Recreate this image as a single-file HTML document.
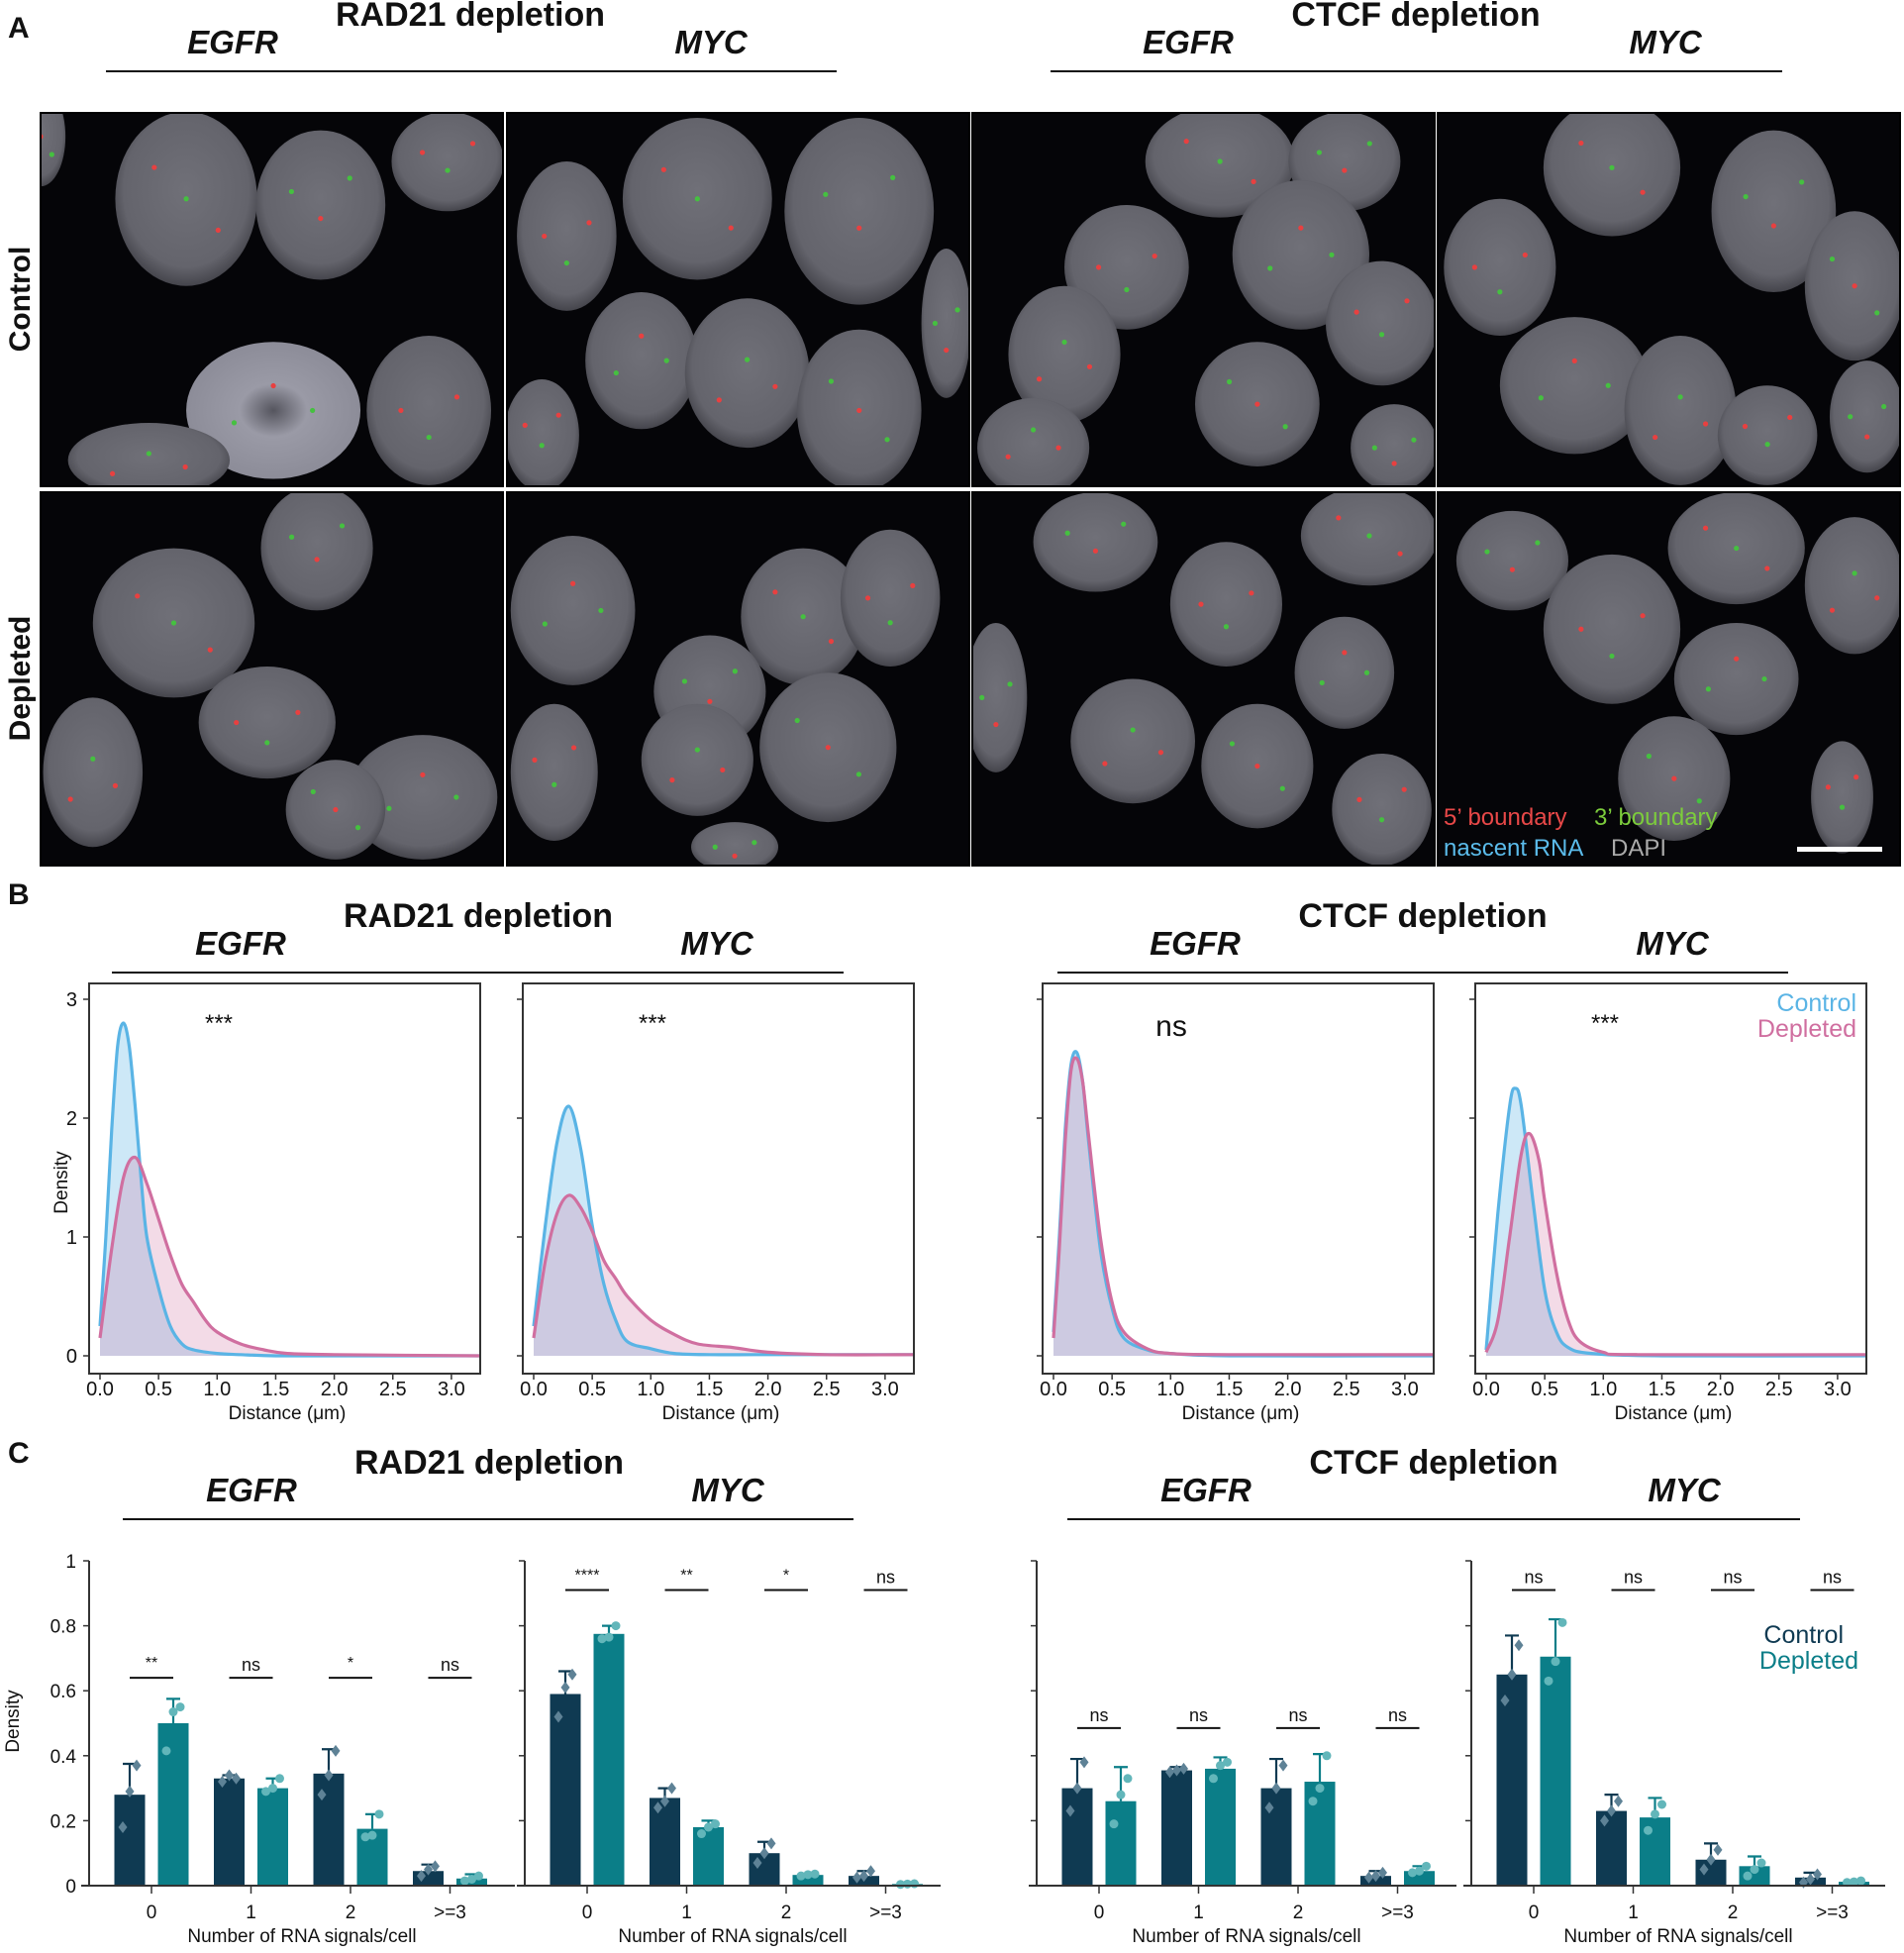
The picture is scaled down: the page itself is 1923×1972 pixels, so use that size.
<!DOCTYPE html>
<html><head><meta charset="utf-8">
<style>
html,body{margin:0;padding:0;background:#fff;}
svg{display:block;font-family:"Liberation Sans",Arial,sans-serif;}
</style></head>
<body>
<svg id="fig" width="1923" height="1972" viewBox="0 0 1923 1972" xmlns="http://www.w3.org/2000/svg">
<defs>
<radialGradient id="nuc" cx="50%" cy="45%" r="55%">
<stop offset="0%" stop-color="#707078"/><stop offset="80%" stop-color="#64646c"/><stop offset="100%" stop-color="#45454c"/>
</radialGradient>
<radialGradient id="nucb" cx="50%" cy="50%" r="55%">
<stop offset="0%" stop-color="#55555e"/><stop offset="35%" stop-color="#9a9aa6"/><stop offset="100%" stop-color="#8a8a96"/>
</radialGradient>
</defs>
<g id="secA"></g>
<g id="secB"></g>
<g id="secC"></g>
</svg>
<script>
// ---------- Panel B data (distance KDE) ----------
const kdeRadEgfrCtrlX = [0,0.05,0.1,0.15,0.2,0.25,0.3,0.35,0.4,0.5,0.6,0.7,0.8,1.0,1.2,1.5,2.0,3.25];
const kdeRadEgfrCtrlY = [0.25,1.0,1.9,2.6,2.8,2.6,2.1,1.5,1.0,0.57,0.25,0.1,0.05,0.02,0.01,0,0,0];
const kdeRadEgfrDepX = [0,0.1,0.2,0.3,0.4,0.5,0.6,0.7,0.8,0.9,1.0,1.2,1.4,1.6,2.0,3.25];
const kdeRadEgfrDepY = [0.15,0.9,1.5,1.67,1.45,1.15,0.85,0.6,0.45,0.3,0.2,0.1,0.05,0.02,0.01,0];
const kdeRadMycCtrlX = [0,0.1,0.2,0.3,0.4,0.5,0.6,0.7,0.8,1.0,1.2,1.5,2.0,3.25];
const kdeRadMycCtrlY = [0.25,1.1,1.8,2.1,1.75,1.1,0.6,0.3,0.12,0.06,0.02,0.01,0.01,0.01];
const kdeRadMycDepX = [0,0.1,0.2,0.3,0.4,0.5,0.6,0.7,0.8,1.0,1.2,1.4,1.7,2.0,2.5,3.25];
const kdeRadMycDepY = [0.15,0.8,1.2,1.35,1.25,1.05,0.8,0.65,0.5,0.3,0.18,0.1,0.07,0.03,0.01,0.01];
const kdeCtcfEgfrCtrlX = [0,0.05,0.1,0.15,0.2,0.25,0.3,0.4,0.5,0.6,0.8,1.0,1.5,3.25];
const kdeCtcfEgfrCtrlY = [0.2,1.0,1.9,2.45,2.55,2.3,1.8,0.9,0.4,0.15,0.05,0.02,0,0];
const kdeCtcfEgfrDepX = [0,0.05,0.1,0.15,0.2,0.25,0.3,0.4,0.5,0.6,0.8,1.0,1.5,3.25];
const kdeCtcfEgfrDepY = [0.15,0.9,1.8,2.4,2.5,2.3,1.85,1.0,0.45,0.2,0.06,0.02,0.01,0.01];
const kdeCtcfMycCtrlX = [0,0.1,0.2,0.25,0.3,0.4,0.5,0.6,0.7,0.9,1.5,3.25];
const kdeCtcfMycCtrlY = [0.05,1.2,2.1,2.25,2.1,1.3,0.55,0.2,0.07,0.02,0,0];
const kdeCtcfMycDepX = [0,0.1,0.2,0.3,0.37,0.45,0.5,0.6,0.7,0.8,1.0,1.3,3.25];
const kdeCtcfMycDepY = [0.03,0.3,1.0,1.7,1.87,1.65,1.3,0.7,0.3,0.12,0.03,0.01,0.01];
const distTicks = ["0.0","0.5","1.0","1.5","2.0","2.5","3.0"];
const densTicksB = ["0","1","2","3"];
const sigB = ["***","***","ns","***"];

// ---------- Panel C data (bar charts) ----------
const countCats = ["0","1","2",">=3"];
const densTicksC = ["0","0.2","0.4","0.6","0.8","1"];
const radEgfrCtrl = [0.28,0.33,0.345,0.045];
const radEgfrDep = [0.50,0.30,0.175,0.022];
const radEgfrCtrlErr = [0.375,0.34,0.42,0.065];
const radEgfrDepErr = [0.575,0.33,0.22,0.035];
const radEgfrCtrlPts = [[0.18,0.29,0.37],[0.32,0.34,0.33],[0.28,0.34,0.415],[0.03,0.05,0.06]];
const radEgfrDepPts = [[0.415,0.535,0.55],[0.29,0.30,0.33],[0.15,0.155,0.22],[0.015,0.02,0.03]];
const radEgfrSig = ["**","ns","*","ns"];
const radMycCtrl = [0.59,0.27,0.10,0.03];
const radMycDep = [0.775,0.18,0.033,0.005];
const radMycCtrlErr = [0.66,0.30,0.135,0.045];
const radMycDepErr = [0.80,0.20,0.037,0.007];
const radMycCtrlPts = [[0.52,0.61,0.65],[0.24,0.26,0.30],[0.07,0.10,0.13],[0.025,0.03,0.045]];
const radMycDepPts = [[0.76,0.765,0.80],[0.16,0.18,0.19],[0.03,0.034,0.036],[0.004,0.005,0.006]];
const radMycSig = ["****","**","*","ns"];
const ctcfEgfrCtrl = [0.30,0.355,0.30,0.03];
const ctcfEgfrDep = [0.26,0.36,0.32,0.045];
const ctcfEgfrCtrlErr = [0.39,0.365,0.39,0.045];
const ctcfEgfrDepErr = [0.365,0.395,0.405,0.06];
const ctcfEgfrCtrlPts = [[0.23,0.30,0.38],[0.35,0.355,0.36],[0.24,0.30,0.37],[0.025,0.03,0.04]];
const ctcfEgfrDepPts = [[0.19,0.28,0.33],[0.33,0.37,0.38],[0.26,0.30,0.40],[0.04,0.045,0.06]];
const ctcfEgfrSig = ["ns","ns","ns","ns"];
const ctcfMycCtrl = [0.65,0.23,0.08,0.025];
const ctcfMycDep = [0.705,0.21,0.06,0.012];
const ctcfMycCtrlErr = [0.77,0.28,0.13,0.04];
const ctcfMycDepErr = [0.82,0.27,0.09,0.015];
const ctcfMycCtrlPts = [[0.57,0.65,0.74],[0.20,0.23,0.26],[0.05,0.08,0.11],[0.01,0.02,0.035]];
const ctcfMycDepPts = [[0.63,0.69,0.81],[0.17,0.22,0.25],[0.03,0.05,0.07],[0.01,0.012,0.015]];
const ctcfMycSig = ["ns","ns","ns","ns"];

const NS="http://www.w3.org/2000/svg";
function mk(parent,tag,attrs,text){
  const e=document.createElementNS(NS,tag);
  for(const k in attrs) e.setAttribute(k,attrs[k]);
  if(text!==undefined) e.textContent=text;
  parent.appendChild(e); return e;
}
function txt(parent,x,y,s,size,opts){
  opts=opts||{};
  const t=mk(parent,'text',{x:x,y:y,'font-size':size,'text-anchor':opts.anchor||'middle',fill:opts.fill||'#111','font-weight':opts.weight||'normal','font-style':opts.style||'normal'},s);
  if(opts.rot) t.setAttribute('transform','rotate(-90 '+x+' '+y+')');
  return t;
}

// ---------- Section headers ----------
function header(g,y0,title,tx,gene1,g1x,gene2,g2x,lx1,lx2){
  const t=txt(g,tx,y0,title,34,{weight:'bold'});
  
  
  const a=txt(g,g1x,y0+28,gene1,33,{weight:'bold',style:'italic'});
  
  
  const b=txt(g,g2x,y0+28,gene2,33,{weight:'bold',style:'italic'});
  
  
  const l=mk(g,'line',{x1:lx1,x2:lx2,y1:y0+46,y2:y0+46,stroke:'#111','stroke-width':2});
  
  
}

// ---------- Section A ----------
const gA=document.getElementById('secA');
const pl=txt(gA,8,38,'A',30,{anchor:'start',weight:'bold'});


header(gA,26,'RAD21 depletion',475,'EGFR',235,'MYC',718,107,845);
header(gA,26,'CTCF depletion',1430,'EGFR',1200,'MYC',1682,1061,1800);

const rl1=txt(gA,30,302,'Control',30,{weight:'bold',rot:true});


const rl2=txt(gA,30,685,'Depleted',30,{weight:'bold',rot:true});



const imgCols=[41,512,982,1452];
const imgRows=[114,497];
const nuclei=[
 [[117,69,57,70],[225,74,52,60],[312,239,50,60],[187,239,70,55],[87,279,65,30],[0,19,20,40],[327,39,45,40]],
 [[153,69,60,65],[283,79,60,75],[48,99,40,60],[108,199,45,55],[193,209,50,60],[283,239,50,65],[28,259,30,45],[353,169,20,60]],
 [[199,39,60,45],[299,39,45,40],[124,124,50,50],[264,114,55,60],[74,194,45,55],[229,234,50,50],[329,169,45,50],[339,269,35,35],[49,269,45,40]],
 [[140,44,55,55],[270,79,50,65],[50,124,45,55],[110,219,60,55],[195,239,45,60],[335,139,40,60],[265,259,40,40],[345,244,30,45]],
 [[107,105,65,60],[222,45,45,50],[182,185,55,45],[307,245,60,50],[42,225,40,60],[237,255,40,40]],
 [[238,100,50,55],[163,160,45,45],[308,85,40,55],[53,95,50,60],[153,215,45,45],[258,205,55,60],[38,225,35,55],[183,285,35,20]],
 [[319,35,55,40],[99,40,50,40],[204,90,45,50],[299,145,40,45],[129,200,50,50],[229,220,45,50],[329,255,40,45],[19,165,25,60]],
 [[240,45,55,45],[60,55,45,40],[140,110,55,60],[240,150,50,45],[335,75,40,55],[190,230,45,50],[325,245,25,45]]
];
const S=1.257;
let idx=0;
for(let r=0;r<2;r++){for(let c=0;c<4;c++){
  const x0=imgCols[c], y0=imgRows[r];
  const g=mk(gA,'g',{});
  
  
  const cp=mk(g,'clipPath',{id:'cp'+idx});
  mk(cp,'rect',{x:x0,y:y0,width:467,height:377});
  mk(g,'rect',{x:x0,y:y0,width:467,height:377,fill:'#050508'});
  const gi=mk(g,'g',{'clip-path':'url(#cp'+idx+')'});
  nuclei[idx].forEach((n,k)=>{
    const e=mk(gi,'ellipse',{cx:x0+n[0]*S,cy:y0+n[1]*S,rx:n[2]*S,ry:n[3]*S,fill:(r===0&&c===0&&k===3)?'url(#nucb)':'url(#nuc)'});
    
    
    const cols=['#e84040','#45c040','#e84040','#45c040'];
    for(let d=0;d<3;d++){
      mk(gi,'circle',{cx:x0+(n[0]+(d-1)*n[2]*0.45)*S,cy:y0+(n[1]+((d*7+k)%5-2)*n[3]*0.18)*S,r:2.6,fill:cols[(d+k)%4]});
    }
  });
  mk(g,'rect',{x:x0,y:y0,width:467,height:377,fill:'none',stroke:'#000','stroke-width':2});
  idx++;
}}
const lg=[['5\u2019 boundary',1458,833,'#e84848'],['3\u2019 boundary',1610,833,'#7ccc3c'],['nascent RNA',1458,864,'#5bbbea'],['DAPI',1627,864,'#aaaaaa']];
lg.forEach(l=>{const t=txt(gA,l[1],l[2],l[0],24,{anchor:'start',fill:l[3]});
  
  });
const sb=mk(gA,'rect',{x:1815,y:855,width:86,height:5,fill:'#fff'});



// ---------- Section B ----------
const gB=document.getElementById('secB');
const plb=txt(gB,8,913,'B',30,{anchor:'start',weight:'bold'});


header(gB,936,'RAD21 depletion',483,'EGFR',243,'MYC',724,113,852);
header(gB,936,'CTCF depletion',1437,'EGFR',1207,'MYC',1689,1068,1806);

const boxLeftB=[90,528,1053,1490];
const boxW=395, boxTop=993, boxBot=1387;
const y0B=1369, pxPerDens=120, pxPerUm=118.3, xOffB=11;
const kdeSets=[
 [kdeRadEgfrCtrlX,kdeRadEgfrCtrlY,kdeRadEgfrDepX,kdeRadEgfrDepY],
 [kdeRadMycCtrlX,kdeRadMycCtrlY,kdeRadMycDepX,kdeRadMycDepY],
 [kdeCtcfEgfrCtrlX,kdeCtcfEgfrCtrlY,kdeCtcfEgfrDepX,kdeCtcfEgfrDepY],
 [kdeCtcfMycCtrlX,kdeCtcfMycCtrlY,kdeCtcfMycDepX,kdeCtcfMycDepY]];
function smoothPath(pts){
  let d='M'+pts[0][0]+','+pts[0][1];
  for(let i=0;i<pts.length-1;i++){
    const p0=pts[Math.max(0,i-1)],p1=pts[i],p2=pts[i+1],p3=pts[Math.min(pts.length-1,i+2)];
    const c1x=p1[0]+(p2[0]-p0[0])/6,c1y=p1[1]+(p2[1]-p0[1])/6;
    const c2x=p2[0]-(p3[0]-p1[0])/6,c2y=p2[1]-(p3[1]-p1[1])/6;
    d+=' C'+c1x.toFixed(1)+','+c1y.toFixed(1)+' '+c2x.toFixed(1)+','+c2y.toFixed(1)+' '+p2[0].toFixed(1)+','+p2[1].toFixed(1);
  }
  return d;
}
boxLeftB.forEach((bx,p)=>{
  const g=mk(gB,'g',{});
  
  
  const xs=v=>bx+xOffB+v*pxPerUm;
  const ys=v=>y0B-v*pxPerDens;
  const xMaxPx=bx+boxW;
  const set=kdeSets[p];
  const series=[[set[0],set[1],'#5ab4e5','rgba(90,180,229,0.30)','control'],[set[2],set[3],'#d06fa0','rgba(208,111,160,0.25)','depleted']];
  series.forEach(s=>{
    const pts=s[0].map((x,i)=>[Math.min(xs(x),xMaxPx),ys(s[1][i])]);
    const d=smoothPath(pts);
    const f=mk(g,'path',{d:d+' L'+pts[pts.length-1][0]+','+y0B+' L'+pts[0][0]+','+y0B+' Z',fill:s[3],stroke:'none'});
    
    
  });
  series.forEach(s=>{
    const pts=s[0].map((x,i)=>[Math.min(xs(x),xMaxPx),ys(s[1][i])]);
    const l=mk(g,'path',{d:smoothPath(pts),fill:'none',stroke:s[2],'stroke-width':3.2,'stroke-linejoin':'round'});
    
    
  });
  const box=mk(g,'rect',{x:bx,y:boxTop,width:boxW,height:boxBot-boxTop,fill:'none',stroke:'#333','stroke-width':2});
  
  
  densTicksB.forEach(t=>{
    const y=ys(+t);
    mk(g,'line',{x1:bx-6,x2:bx,y1:y,y2:y,stroke:'#333','stroke-width':1.5});
    if(p===0){const tl=txt(g,bx-12,y+7,t,20,{anchor:'end'});
      
      }
  });
  distTicks.forEach(t=>{
    const x=xs(+t);
    mk(g,'line',{x1:x,x2:x,y1:boxBot,y2:boxBot+6,stroke:'#333','stroke-width':1.5});
    const tl=txt(g,x,boxBot+22,t,20);
    
    
  });
  const xl=txt(g,bx+200,1433,'Distance (\u03bcm)',19);
  
  
  const sg=txt(g,sigB[p]==='ns'?bx+130:bx+131,sigB[p]==='ns'?1046:1041,sigB[p],sigB[p]==='ns'?30:24);
  
  
});
const dy=txt(gB,68,1194,'Density',19,{rot:true});


const lc=txt(gB,1875,1021,'Control',25,{anchor:'end',fill:'#5ab4e5'});


const ld=txt(gB,1875,1047,'Depleted',25,{anchor:'end',fill:'#d06fa0'});



// ---------- Section C ----------
const gC=document.getElementById('secC');
const plc=txt(gC,8,1477,'C',30,{anchor:'start',weight:'bold'});


header(gC,1488,'RAD21 depletion',494,'EGFR',254,'MYC',735,124,862);
header(gC,1488,'CTCF depletion',1448,'EGFR',1218,'MYC',1701,1078,1818);

const axisX=[90,530,1047,1486];
const axisEnd=[520,950,1471,1904];
const y0C=1904, pxPerC=328, catOff=63, catStep=100.5, barW=31, barShift=22;
const barSets=[
 [radEgfrCtrl,radEgfrDep,radEgfrCtrlErr,radEgfrDepErr,radEgfrCtrlPts,radEgfrDepPts,radEgfrSig,0.64],
 [radMycCtrl,radMycDep,radMycCtrlErr,radMycDepErr,radMycCtrlPts,radMycDepPts,radMycSig,0.91],
 [ctcfEgfrCtrl,ctcfEgfrDep,ctcfEgfrCtrlErr,ctcfEgfrDepErr,ctcfEgfrCtrlPts,ctcfEgfrDepPts,ctcfEgfrSig,0.485],
 [ctcfMycCtrl,ctcfMycDep,ctcfMycCtrlErr,ctcfMycDepErr,ctcfMycCtrlPts,ctcfMycDepPts,ctcfMycSig,0.91]];
const cCtrl='#0f3a52', cDep='#0b7e88', pCtrl='#5e8296', pDep='#62b6ba';
axisX.forEach((ax,p)=>{
  const g=mk(gC,'g',{});
  
  
  const ys=v=>y0C-v*pxPerC;
  const cx=i=>ax+catOff+i*catStep;
  const s=barSets[p];
  countCats.forEach((c,i)=>{
    [[0,-barShift,cCtrl,pCtrl,'control'],[1,barShift,cDep,pDep,'depleted']].forEach(q=>{
      const v=s[q[0]][i], err=s[2+q[0]][i], pts=s[4+q[0]][i];
      const bxx=cx(i)+q[1]-barW/2;
      const b=mk(g,'rect',{x:bxx,y:ys(v),width:barW,height:y0C-ys(v),fill:q[2]});
      
      
      const mx=cx(i)+q[1];
      const e=mk(g,'path',{d:'M'+mx+','+ys(v)+' V'+ys(err)+' M'+(mx-7)+','+ys(err)+' H'+(mx+7),stroke:q[2],'stroke-width':2.2,fill:'none'});
      
      
      pts.forEach((pv,k)=>{
        const px=mx+(k-1)*7, py=ys(pv);
        let m;
        if(q[0]===0) m=mk(g,'path',{d:'M'+px+','+(py-6)+' L'+(px+4.5)+','+py+' L'+px+','+(py+6)+' L'+(px-4.5)+','+py+' Z',fill:q[3]});
        else m=mk(g,'circle',{cx:px,cy:py,r:4.5,fill:q[3]});
        
        
      });
    });
    const sy=ys(s[7]);
    const sl=mk(g,'line',{x1:cx(i)-22,x2:cx(i)+22,y1:sy,y2:sy,stroke:'#111','stroke-width':2});
    
    
    const st=txt(g,cx(i),s[6][i]==='ns'?sy-7:sy-10,s[6][i],s[6][i]==='ns'?18:16);
    
    
    mk(g,'line',{x1:cx(i),x2:cx(i),y1:y0C,y2:y0C+8,stroke:'#333','stroke-width':1.5});
    const tl=txt(g,cx(i),1937,c,19);
    
    
  });
  const yax=mk(g,'line',{x1:ax,x2:ax,y1:ys(1),y2:y0C,stroke:'#333','stroke-width':2});
  
  
  const xax=mk(g,'line',{x1:ax-8,x2:axisEnd[p],y1:y0C,y2:y0C,stroke:'#333','stroke-width':2});
  
  
  densTicksC.forEach(t=>{
    const y=ys(+t);
    mk(g,'line',{x1:ax-6,x2:ax,y1:y,y2:y,stroke:'#333','stroke-width':1.5});
    if(p===0){const tl=txt(g,ax-13,y+7,t,19,{anchor:'end'});
      
      }
  });
  const xl=txt(g,ax+(axisEnd[p]-ax)/2,1961,'Number of RNA signals/cell',19);
  
  
});
const dyc=txt(gC,19,1738,'Density',19,{rot:true});


const lcc=txt(gC,1862,1659,'Control',25,{anchor:'end',fill:cCtrl});


const ldc=txt(gC,1877,1685,'Depleted',25,{anchor:'end',fill:cDep});


</script>
</body></html>
